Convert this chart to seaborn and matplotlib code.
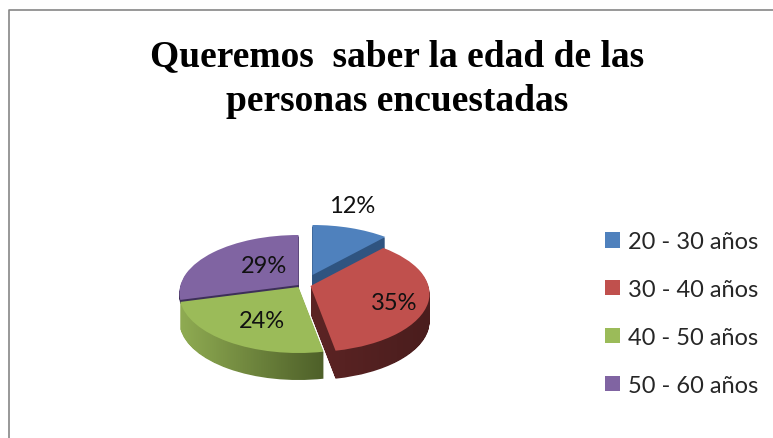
import numpy as np
import matplotlib
matplotlib.use("Agg")
import matplotlib.pyplot as plt
import seaborn as sns
from matplotlib.colors import LinearSegmentedColormap
from matplotlib.patches import Patch, PathPatch
from matplotlib.path import Path

# Datos del grafico
categorias = ["20 - 30 años", "30 - 40 años", "40 - 50 años", "50 - 60 años"]
porcentajes = [12, 35, 24, 29]
etiquetas = ["12%", "35%", "24%", "29%"]
titulo = "Queremos  saber la edad de las\npersonas encuestadas"

colores = sns.color_palette(["#4f81bd", "#c0504d", "#9bbb59", "#8064a2"])
lado_claro = ["#2f5480", "#5c2424", "#8fab52", "#3d2f58"]
lado_oscuro = ["#2f5480", "#4a1d1d", "#4e6029", "#3d2f58"]
desplazamiento = [(14, -10), (12, 1), (0, 2), (0, 0)]
profundidad = [27, 28, 27, 4]
pos_etiquetas = [(352, 207), (394, 304), (262, 322), (264, 267)]

sns.set_theme(style="white")
fig = plt.figure(figsize=(7.73, 4.39), dpi=100)
ax = fig.add_axes([0, 0, 1, 1])

# El pie calcula los angulos, luego se inclina a pixeles para que parezca 3D
wedges, _ = ax.pie(porcentajes, startangle=90, counterclock=False)
CENTRO = (298.5, 286)


def inclinar(path, dx=0, dy=0):
    v = path.vertices
    x = CENTRO[0] + v[:, 0] * (118 - 16 * v[:, 1]) + dx
    y = CENTRO[1] - v[:, 1] * (58 - 8 * v[:, 1]) + dy
    return Path(np.column_stack([x, y]), path.codes)


# orden de atras hacia adelante
for i in [3, 0, 2, 1]:
    w = wedges[i]
    w.set_visible(False)
    dx, dy = desplazamiento[i]
    capas = [inclinar(w.get_path(), dx, dy + d) for d in range(1, profundidad[i] + 1)]
    lado = Path.make_compound_path(*capas)
    ext = lado.get_extents()
    cmap = LinearSegmentedColormap.from_list("lado", [lado_claro[i], lado_oscuro[i]])
    img = ax.imshow(np.linspace(0, 1, 64).reshape(1, -1), cmap=cmap, aspect="auto",
                    extent=(ext.x0, ext.x1, ext.y1, ext.y0), zorder=2)
    img.set_clip_path(PathPatch(lado, transform=ax.transData))
    ax.add_patch(PathPatch(inclinar(w.get_path(), dx, dy), facecolor=colores[i], edgecolor="none", zorder=2))

for (x, y), txt in zip(pos_etiquetas, etiquetas):
    ax.text(x, y, txt, ha="center", va="center", fontsize=17, family="Lato", color="#111111", zorder=5)

ax.text(397, 79, titulo, ha="center", va="center", fontsize=27, fontweight="bold",
        family="Liberation Serif", color="black", linespacing=1.38)

handles = [Patch(facecolor=c, edgecolor="none") for c in colores]
ax.legend(handles, categorias, loc="upper left", bbox_to_anchor=(605, 232), bbox_transform=ax.transData,
          frameon=False, prop={"family": "Lato", "size": 17}, handlelength=0.64, handleheight=0.64,
          handletextpad=0.34, labelspacing=1.14, borderpad=0, borderaxespad=0)

# Marco del grafico
ax.plot([9, 9, 773], [439, 11, 11], color="#868686", lw=1.2, zorder=1)

ax.set_xlim(0, 773)
ax.set_ylim(439, 0)
ax.set_aspect("auto")
ax.axis("off")

fig.savefig("out.png", dpi=100)
